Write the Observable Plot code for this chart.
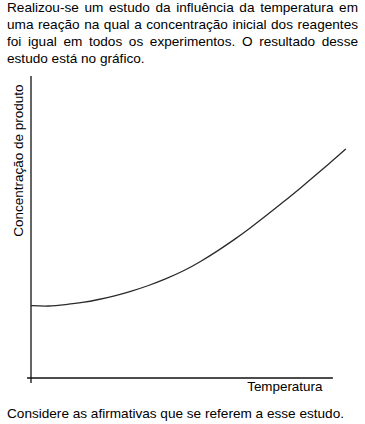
<!DOCTYPE html>
<html>
<head>
<meta charset="utf-8">
<script src="https://cdn.jsdelivr.net/npm/d3@7"></script>
<script src="https://cdn.jsdelivr.net/npm/@observablehq/plot@0.6"></script>
<style>
  html, body { margin: 0; padding: 0; background: #fff; }
  body { width: 365px; height: 424px; position: relative; overflow: hidden;
         font-family: "Liberation Sans", Arial, sans-serif; color: #000; }
  #intro { position: absolute; left: 7px; top: -1px; width: 351px; font-size: 13.6px;
           line-height: 17px; text-align: justify; text-align-last: left; margin: 0; }
  #chart { position: absolute; left: 0; top: 70px; }
  #outro { position: absolute; left: 7px; top: 405px; font-size: 13.6px; line-height: 17px;
           white-space: nowrap; margin: 0; }
</style>
</head>
<body>
<p id="intro"></p>
<div id="chart"></div>
<p id="outro"></p>
<script>
const introText = "Realizou-se um estudo da influência da temperatura em uma reação na qual a concentração inicial dos reagentes foi igual em todos os experimentos. O resultado desse estudo está no gráfico.";
const outroText = "Considere as afirmativas que se referem a esse estudo.";
const xLabel = "Temperatura";
const yLabel = "Concentração de produto";

// Curve (relative units, 0–100)
const temperatura = [0.16, 5.56, 10.95, 16.35, 21.43, 26.83, 31.90, 37.30, 42.70, 48.41, 53.81, 59.21, 64.60, 69.68, 75.08, 80.16, 85.56, 90.95, 95.40, 99.84];
const concentracao = [23.98, 23.88, 24.35, 25.07, 26.04, 27.33, 28.82, 30.68, 32.87, 35.56, 38.64, 42.16, 45.97, 49.85, 54.20, 58.44, 63.05, 67.79, 71.77, 75.85];

const data = temperatura.map((t, i) => ({t, c: concentracao[i]}));

document.getElementById("intro").textContent = introText;
document.getElementById("outro").textContent = outroText;

const font = "Liberation Sans, Arial, sans-serif";

const chart = Plot.plot({
  width: 365,
  height: 330,
  marginLeft: 30.5,
  marginRight: 19.5,
  marginTop: 6,
  marginBottom: 22.5,
  style: {fontFamily: font, fontSize: "13px", color: "#000", background: "transparent"},
  x: {domain: [0, 100], axis: null},
  y: {domain: [0, 100], axis: null},
  marks: [
    Plot.ruleY([0], {x1: -1.1, x2: 96, stroke: "#111", strokeWidth: 1.3}),
    Plot.ruleX([0], {y1: -1.8, y2: 100, stroke: "#111", strokeWidth: 1.3}),
    Plot.line(data, {x: "t", y: "c", curve: "natural", stroke: "#2a2a2a", strokeWidth: 1.3}),
    Plot.text([xLabel], {x: 92.5, y: 0, text: d => d, textAnchor: "end", lineAnchor: "bottom", dy: 12.5, fontSize: 13.4, fill: "#000"}),
    Plot.text([yLabel], {x: 0, y: 72.1, text: d => d, rotate: -90, textAnchor: "middle", lineAnchor: "middle", dx: -12.7, fontSize: 13.5, fill: "#000"})
  ]
});
document.getElementById("chart").appendChild(chart);
</script>
</body>
</html>
